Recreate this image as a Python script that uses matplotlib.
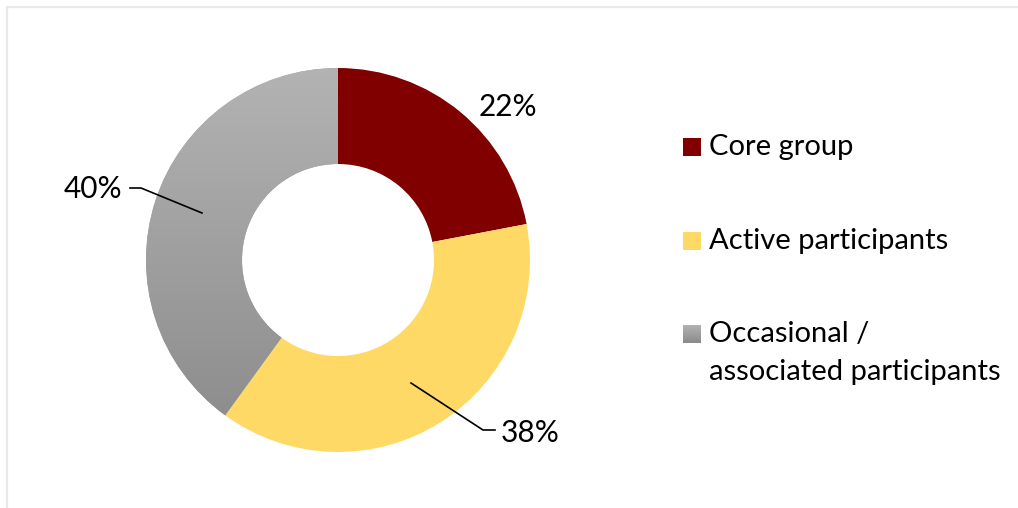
import numpy as np
import matplotlib.pyplot as plt
from matplotlib.patches import Rectangle
from matplotlib.colors import LinearSegmentedColormap

groups = ["Core group", "Active participants", "Occasional /\nassociated participants"]
shares = [22, 38, 40]
colors = ["#800000", "#FFD966", "#A5A5A5"]

plt.rcParams['font.family'] = ['Lato', 'DejaVu Sans']

W, H = 1018, 508
fig = plt.figure(figsize=(W / 100, H / 100), dpi=100)
ax = fig.add_axes([0, 0, 1, 1])

# light frame round the chart area
ax.add_patch(Rectangle((7, -20), W + 20, H - 7 + 20, fill=False,
                       edgecolor="#E8E8E8", linewidth=1.6))

cx, cy, R = 338, 248, 192
wedges, _ = ax.pie(shares, colors=colors, startangle=90, counterclock=False,
                   radius=R, center=(cx, cy),
                   wedgeprops=dict(width=R * 0.5, linewidth=0))

# grey slice has a vertical gradient
grey = LinearSegmentedColormap.from_list("g", ["#B3B3B3", "#8A8A8A"])
grad = np.linspace(0, 1, 256).reshape(-1, 1)
im = ax.imshow(grad, extent=(cx - R, cx + R, cy - R, cy + R), cmap=grey,
               origin="upper", aspect="auto", zorder=2)
im.set_clip_path(wedges[2])

# percentage labels
lab = [f"{v}%" for v in shares]
ax.text(508, 401, lab[0], ha="center", va="center", fontsize=21.5)
ax.text(530, 75, lab[1], ha="center", va="center", fontsize=21.5)
ax.text(93, 319, lab[2], ha="center", va="center", fontsize=21.5)
ax.plot([411, 483, 495], [125, 78, 78], color="black", lw=1.2, zorder=3)
ax.plot([130, 141, 202], [320, 320, 295], color="black", lw=1.2, zorder=3)

# legend drawn by hand so the square lines up with the first text line
leg_y = [361, 267, 174]
for i, (name, y) in enumerate(zip(groups, leg_y)):
    if i == 2:
        sq = ax.imshow(grad, extent=(683, 701, y - 9, y + 9), cmap=grey,
                       origin="upper", aspect="auto", zorder=2)
    else:
        ax.add_patch(Rectangle((683, y - 9), 18, 18, color=colors[i], lw=0))
    for j, line in enumerate(name.split("\n")):
        ax.text(709, y - 38 * j, line, ha="left", va="center", fontsize=21)

ax.set_xlim(0, W)
ax.set_ylim(0, H)
ax.set_aspect("equal")
ax.axis("off")

fig.savefig("out.png", dpi=100)
